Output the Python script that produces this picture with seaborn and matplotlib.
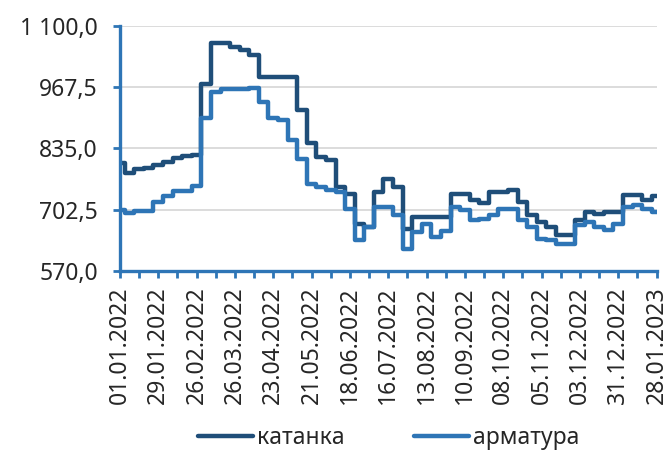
import numpy as np
import pandas as pd
import matplotlib
matplotlib.use("Agg")
import matplotlib.pyplot as plt
import matplotlib.dates as mdates
from matplotlib.ticker import FuncFormatter
import seaborn as sns

# weekly readings, 01.01.2022 .. 28.01.2023
dates = pd.date_range("2022-01-01", "2023-01-28", freq="7D")

katanka = [803, 782, 790, 792, 799, 806, 815, 818, 820, 975,
           1064, 1064, 1055, 1048, 1037, 990, 990, 990, 990, 918,
           846, 817, 810, 752, 737, 672, 665, 741, 770, 752,
           660, 687, 687, 687, 687, 737, 737, 723, 716, 741,
           741, 745, 719, 690, 676, 665, 647, 647, 680, 698,
           694, 698, 698, 734, 734, 723, 732]

armatura = [701, 696, 699, 699, 719, 732, 743, 743, 753, 900,
            958, 963, 963, 963, 967, 935, 900, 896, 853, 813,
            759, 752, 745, 740, 705, 636, 665, 708, 708, 690,
            618, 654, 672, 643, 656, 708, 701, 680, 683, 690,
            703, 703, 681, 665, 640, 636, 629, 629, 669, 676,
            665, 658, 672, 708, 712, 705, 698]

y_ticks = [570.0, 702.5, 835.0, 967.5, 1100.0]

DARK = "#1F4E79"
LIGHT = "#2E75B6"
AXIS = "#2E75B6"

sns.set_style("white")
plt.rcParams["font.family"] = ["Noto Sans", "DejaVu Sans"]

fig = plt.figure(figsize=(6.7, 4.5), dpi=100)
ax = fig.add_axes([0.179, 0.398, 0.801, 0.544])

ax.yaxis.grid(True, color="#D9D9D9", linewidth=1.3)
ax.set_axisbelow(True)

sns.lineplot(x=dates, y=katanka, ax=ax, color=DARK, linewidth=3.2,
             drawstyle="steps-mid", label="катанка")
sns.lineplot(x=dates, y=armatura, ax=ax, color=LIGHT, linewidth=3.2,
             drawstyle="steps-mid", label="арматура")

ax.set_ylim(570, 1100)
ax.set_yticks(y_ticks)
ax.yaxis.set_major_formatter(FuncFormatter(
    lambda v, p: f"{v:,.1f}".replace(",", " ").replace(".", ",")))

ax.set_xlim(pd.Timestamp("2022-01-01"), pd.Timestamp("2023-01-28"))
ax.set_xticks(pd.date_range("2022-01-01", "2023-01-28", freq="28D"))
ax.set_xticks(pd.date_range("2022-01-15", "2023-01-28", freq="28D"), minor=True)
ax.xaxis.set_major_formatter(mdates.DateFormatter("%d.%m.%Y"))

for side in ["top", "right"]:
    ax.spines[side].set_visible(False)
for side in ["left", "bottom"]:
    ax.spines[side].set_color(AXIS)
    ax.spines[side].set_linewidth(2.4)

ax.tick_params(axis="y", which="major", left=True, length=5, width=2,
               color=AXIS, direction="out", pad=11, labelsize=16.5)
ax.tick_params(axis="x", which="both", bottom=True, length=5, width=2,
               color=AXIS, direction="out", pad=6, labelsize=16.5,
               labelrotation=90)

ax.set_xlabel("")
ax.set_ylabel("")
ax.legend_.remove()
handles, labels = ax.get_legend_handles_labels()
fig.legend(handles, labels, loc="center", bbox_to_anchor=(0.58, 0.027),
           ncol=2, frameon=False, fontsize=16.5, handlelength=2.4,
           handletextpad=0.2, columnspacing=3.0)

fig.savefig("out.png", dpi=100)
